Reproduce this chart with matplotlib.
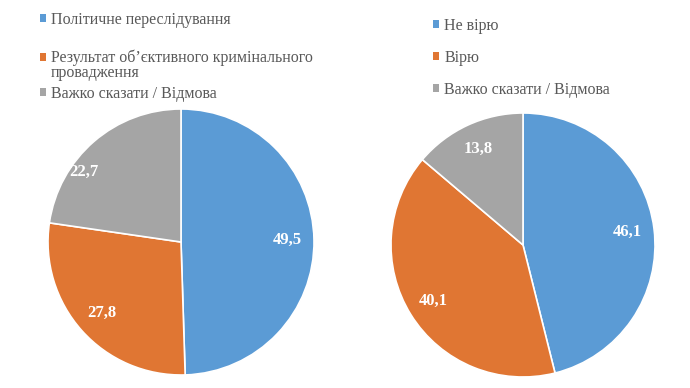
import matplotlib.pyplot as plt
from matplotlib.patches import Patch

plt.rcParams['font.family'] = ['Liberation Serif', 'DejaVu Serif']

labels_left = ["Політичне переслідування",
               "Результат об\u2019єктивного кримінального\nпровадження",
               "Важко сказати / Відмова"]
values_left = [49.5, 27.8, 22.7]

labels_right = ["Не вірю", "Вірю", "Важко сказати / Відмова"]
values_right = [46.1, 40.1, 13.8]

colors = ["#5B9BD5", "#E07633", "#A5A5A5"]
W, H = 690, 388
LEG_COLOR = "#595959"
LEG_SIZE = 11.5

fig = plt.figure(figsize=(6.9, 3.88), dpi=100)
pending = []


def pie_axes(cx, cy, r):
    return fig.add_axes([(cx - r) / W, (H - cy - r) / H, 2 * r / W, 2 * r / H])


def draw(ax, values, labels, leg_x, leg_rows):
    wedges, _, autotexts = ax.pie(values, colors=colors, startangle=90, counterclock=False,
                                  autopct=lambda p: f"{p:.1f}".replace(".", ","),
                                  pctdistance=0.8, radius=1,
                                  wedgeprops=dict(edgecolor="white", linewidth=1.2),
                                  textprops=dict(color="white", fontsize=12, fontweight="bold"))
    ax.set_xlim(-1, 1)
    ax.set_ylim(-1, 1)
    ax.set_aspect("auto")
    # one legend per entry so the uneven row gaps of the original can be kept
    for c, lab, y in zip(colors, labels, leg_rows):
        first, *rest = lab.split("\n")
        leg = fig.legend([Patch(facecolor=c, edgecolor="none")], [first], loc="upper left",
                         bbox_to_anchor=(leg_x / W, 1 - (y - 6) / H),
                         frameon=False, fontsize=LEG_SIZE, labelcolor=LEG_COLOR,
                         handlelength=0.4, handleheight=0.4, handletextpad=0.3,
                         borderaxespad=0, borderpad=0)
        for i, line in enumerate(rest):
            pending.append((leg.get_texts()[0], line, y + 17 * (i + 1)))
    return autotexts


t1 = draw(pie_axes(181, 242, 133), values_left, labels_left, 40, [18, 56, 92])
t2 = draw(pie_axes(523, 245, 132), values_right, labels_right, 433, [24, 56, 88])
t1[2].set_position((-0.73, 0.53))

# wrapped legend lines continue under the first line of their entry
fig.canvas.draw()
for ref, line, y in pending:
    x0 = ref.get_window_extent().x0
    fig.text(x0 / W, 1 - y / H, line, fontsize=LEG_SIZE, color=LEG_COLOR, va="center")

fig.savefig("out.png", dpi=100)
